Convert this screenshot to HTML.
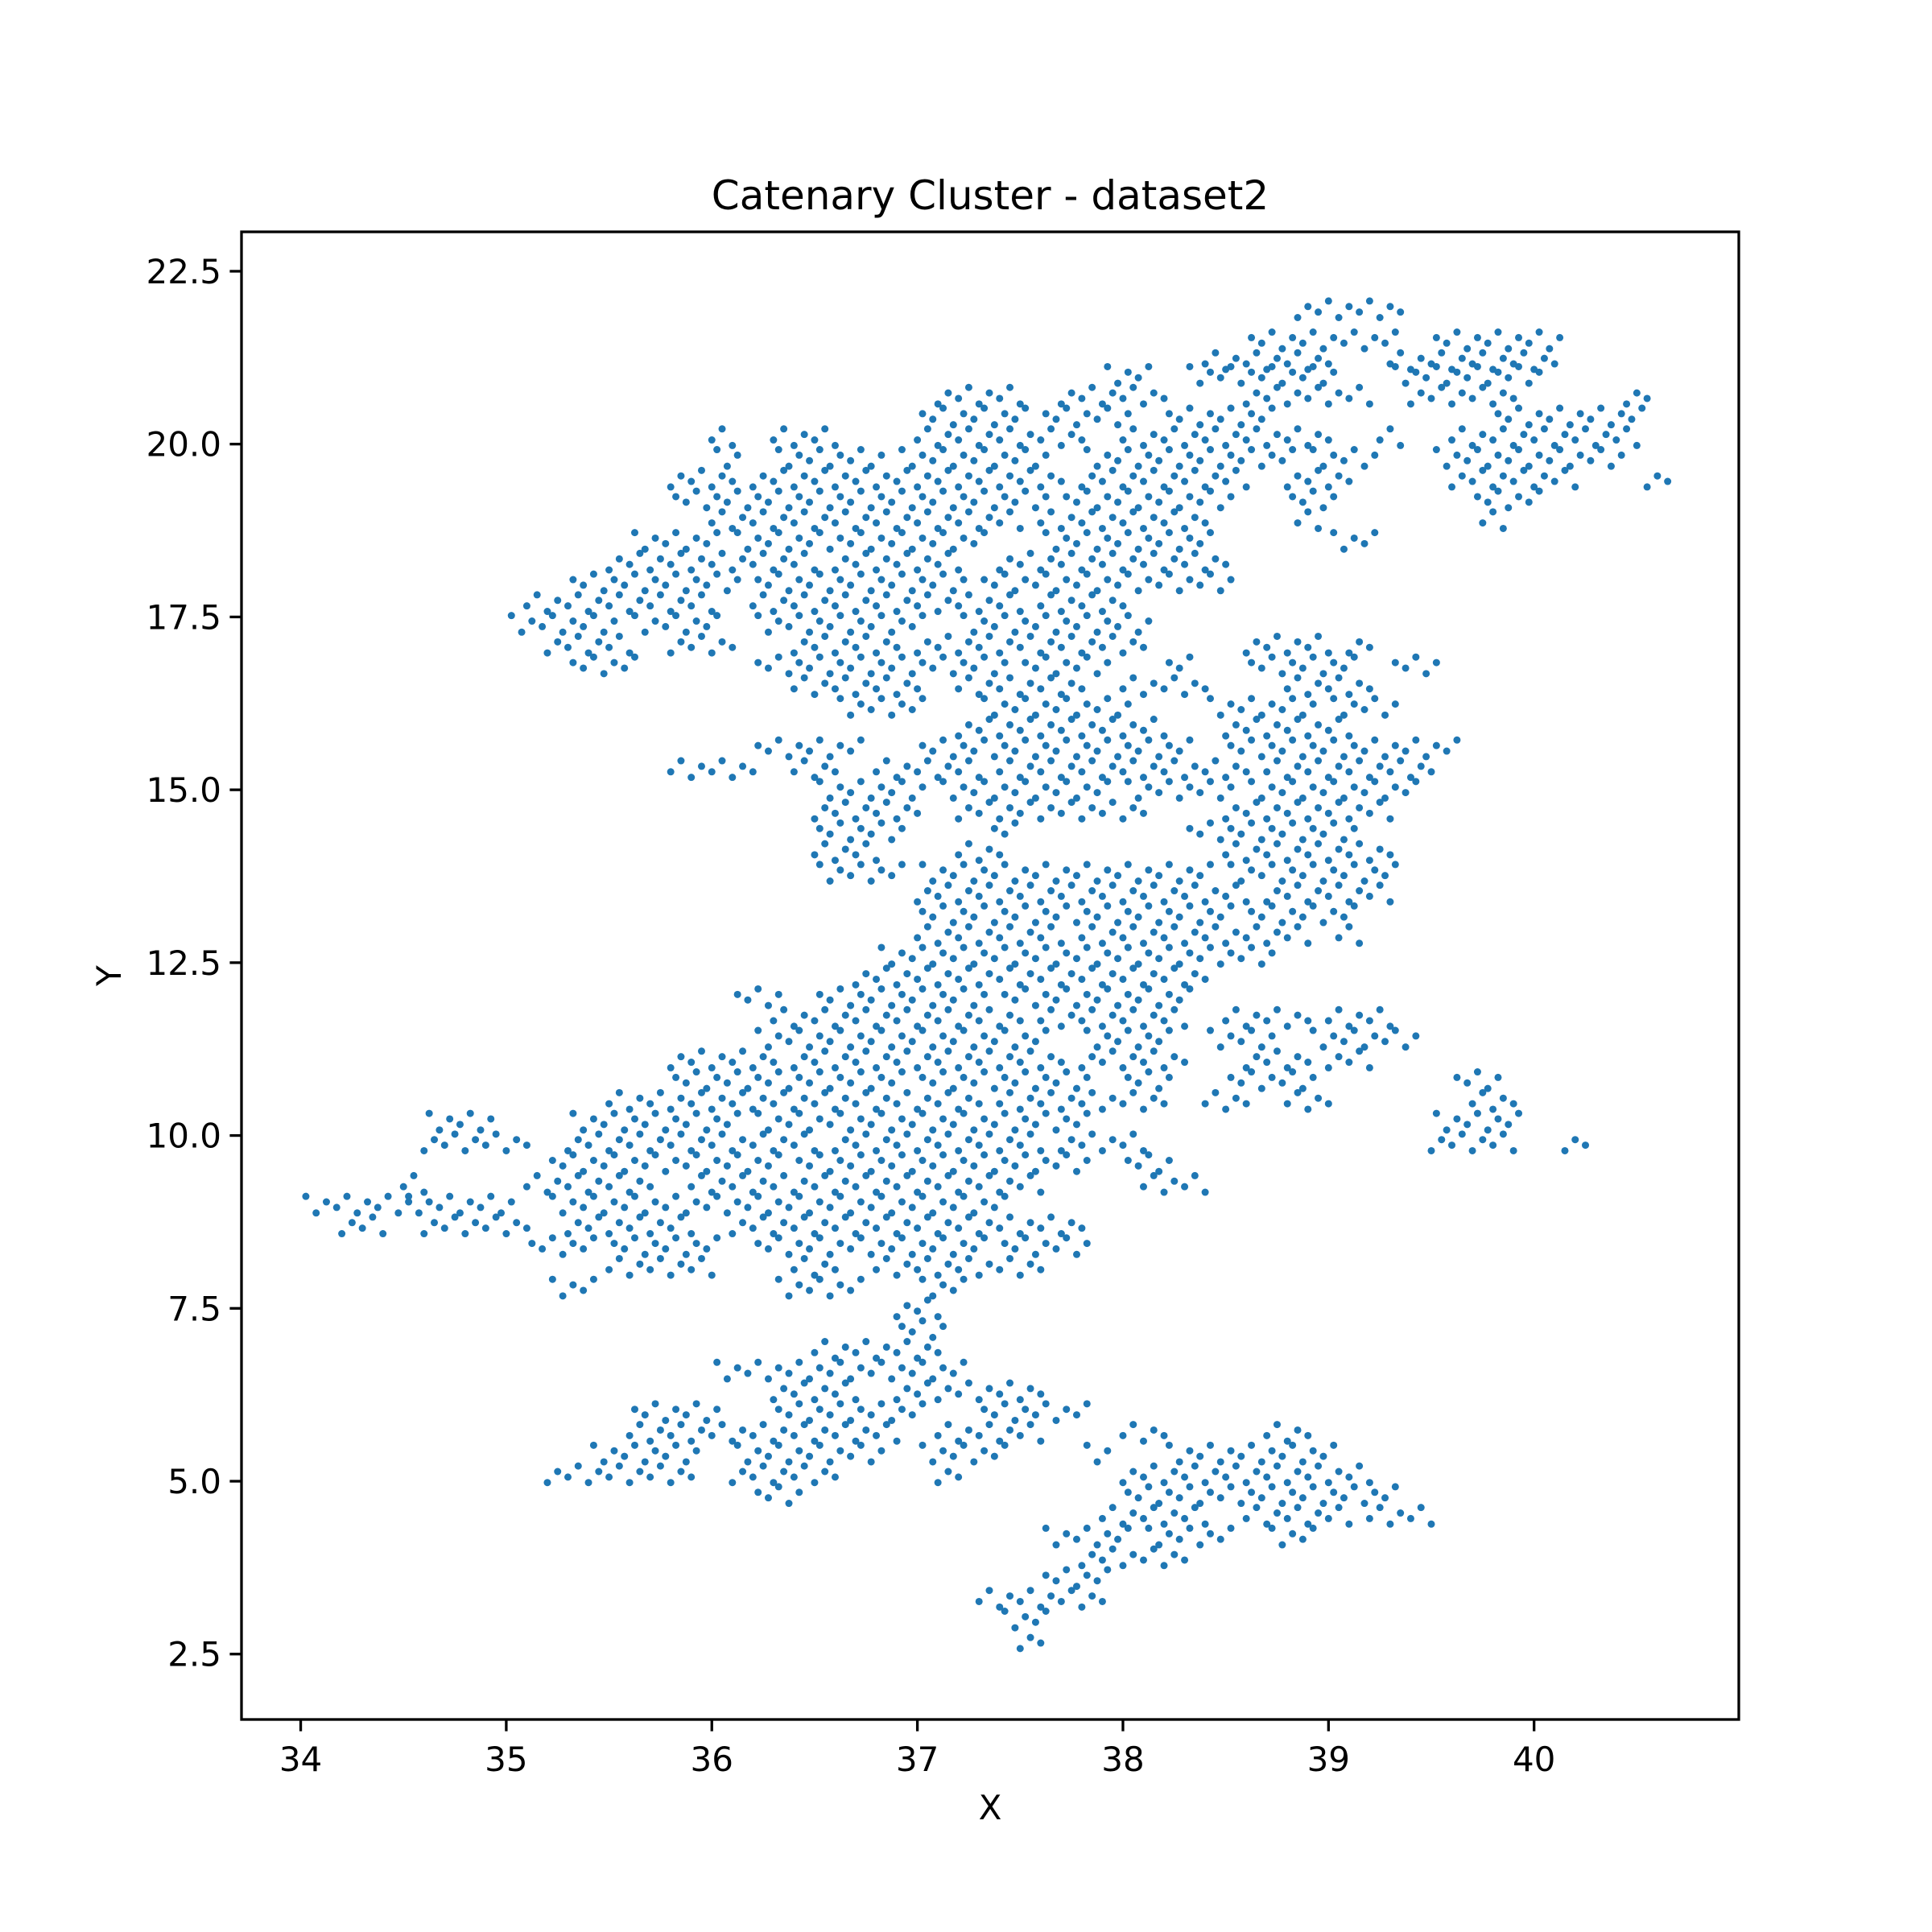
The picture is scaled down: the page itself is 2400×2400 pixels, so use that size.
<!DOCTYPE html>
<html><head><meta charset="utf-8">
<style>
html,body{margin:0;padding:0;background:#fff;}
svg{display:block;font-family:"DejaVu Sans","Liberation Sans",sans-serif;}
</style></head>
<body>
<svg id="chart" width="2400" height="2400" viewBox="0 0 2400 2400" xmlns="http://www.w3.org/2000/svg">
<rect width="2400" height="2400" fill="#fff"/>
<text x="1230" y="260" font-size="50" text-anchor="middle">Catenary Cluster - dataset2</text>
<text x="1230" y="2260" font-size="42" text-anchor="middle">X</text>
<text x="0" y="0" font-size="42" text-anchor="middle" transform="translate(150,1212) rotate(-90)">Y</text>
<g id="ticks"></g>
<g id="points"></g>
<rect x="300" y="288" width="1860" height="1848" fill="none" stroke="#000" stroke-width="3.3"/>
</svg>
<script>
const xTicks = [34,35,36,37,38,39,40];
const yTicks = [2.5,5.0,7.5,10.0,12.5,15.0,17.5,20.0,22.5];
// occupied x-ranges per y band
const rowY = [21.95,21.5,21.2,21.0,20.7,20.4,20.1,19.8,19.5,19.2,18.9,18.6,18.3,18.0,17.7,17.4,17.1,16.8,16.5,16.2,15.9,15.6,15.3,15.0,14.7,14.4,14.1,13.8,13.5,13.2,12.9,12.6,12.3,12.0,11.7,11.4,11.1,10.8,10.5,10.2,9.9,9.6,9.3,9.0,8.7,8.4,8.1,7.8,7.5,7.2,6.9,6.6,6.3,6.0,5.7,5.4,5.1,4.8,4.5,4.2,3.9,3.6,3.3,3.0,2.7];
const rowRanges = [
[[38.85,39.35]],
[[38.6,39.3],[39.5,40.1]],
[[38.4,39.0],[39.3,40.1]],
[[37.9,38.1],[38.3,39.0],[39.3,40.0]],
[[37.1,37.5],[37.7,38.2],[38.6,39.2],[39.4,39.9],[40.45,40.55]],
[[37.0,37.5],[37.6,38.0],[38.2,38.7],[39.8,40.5]],
[[36.0,36.1],[36.3,36.6],[37.0,37.8],[38.0,39.0],[39.25,39.35],[39.6,40.5]],
[[36.0,36.1],[36.3,36.8],[36.9,37.6],[37.8,38.8],[38.9,39.2],[39.5,40.4]],
[[35.8,36.1],[36.2,37.7],[37.8,38.6],[38.8,39.1],[39.6,40.2],[40.55,40.65]],
[[35.8,37.6],[37.7,38.5],[38.8,39.0],[39.7,40.0]],
[[36.0,37.5],[37.6,38.4],[38.85,38.95],[39.75,39.85]],
[[35.6,36.0],[36.1,37.3],[37.6,38.4],[39.0,39.2]],
[[35.5,36.5],[36.6,37.2],[37.4,38.5]],
[[35.3,36.1],[36.2,37.2],[37.3,38.5]],
[[35.1,36.0],[36.2,37.5],[37.6,38.0]],
[[35.0,35.5],[35.6,36.0],[36.2,37.0],[37.2,38.1]],
[[35.2,35.6],[35.8,36.1],[36.4,36.9],[37.0,38.1],[38.6,39.0],[39.1,39.2]],
[[35.3,35.6],[36.2,37.4],[37.5,37.9],[38.2,38.3],[38.6,39.1],[39.3,39.5]],
[[36.4,37.0],[37.2,37.8],[38.0,38.4],[38.8,39.2]],
[[36.6,37.0],[37.3,38.0],[38.4,38.9],[39.0,39.3]],
[[37.2,38.2],[38.5,39.1]],
[[36.2,36.7],[37.0,38.3],[38.5,39.6]],
[[35.8,36.2],[36.4,36.6],[36.8,37.3],[37.4,38.6],[38.7,39.5]],
[[36.5,37.0],[37.1,37.9],[38.0,38.5],[38.6,39.4]],
[[36.5,37.0],[37.2,38.1],[38.5,39.3]],
[[36.5,36.9],[37.35,37.45],[38.3,39.1]],
[[36.5,36.8],[37.2,37.4],[38.5,39.3]],
[[36.5,36.9],[37.0,38.4],[38.5,39.3]],
[[37.0,38.6],[38.7,39.3]],
[[37.0,38.5],[38.6,39.1]],
[[37.0,37.7],[37.8,38.9],[39.05,39.15]],
[[36.8,38.0],[38.0,38.7]],
[[36.7,38.4]],
[[36.1,36.3],[36.5,37.3],[37.4,38.3]],
[[36.3,37.5],[37.6,38.3],[38.5,38.9],[39.0,39.3]],
[[36.2,37.6],[37.8,38.2],[38.4,38.7],[38.9,39.4]],
[[35.8,36.3],[36.4,37.7],[37.8,38.3],[38.6,38.9],[39.0,39.2]],
[[35.8,36.9],[37.0,37.8],[38.0,38.2],[38.5,38.9],[39.6,39.8]],
[[35.5,37.3],[37.4,38.2],[38.4,38.6],[38.8,39.0],[39.7,39.9]],
[[34.6,34.9],[35.3,36.1],[36.2,37.8],[39.5,39.9]],
[[34.6,35.1],[35.3,36.5],[36.6,37.6],[37.7,38.1],[39.5,39.9],[40.15,40.25]],
[[35.2,36.3],[36.4,37.8],[38.0,38.2]],
[[34.5,34.6],[35.1,35.7],[35.9,37.6],[38.1,38.4]],
[[34.0,34.5],[34.5,35.0],[35.2,37.4]],
[[34.2,34.4],[34.6,35.1],[35.3,35.9],[36.1,37.8]],
[[35.1,35.4],[35.5,36.0],[36.2,37.3],[37.4,37.8]],
[[35.5,36.0],[36.4,36.6],[36.8,37.6]],
[[35.2,35.4],[36.3,36.7],[37.0,37.2]],
[[36.9,37.1]],
[[36.9,37.1]],
[[36.5,37.1]],
[[36.0,37.2]],
[[36.3,36.7],[36.9,37.6]],
[[35.6,36.0],[36.3,37.0],[37.3,37.8]],
[[35.6,36.9],[37.1,37.6],[38.0,38.2],[38.7,38.9]],
[[35.4,35.9],[36.1,36.8],[37.0,37.4],[37.8,37.9],[38.2,39.0]],
[[35.2,35.9],[36.1,36.6],[37.1,37.2],[38.0,39.2]],
[[36.2,36.4],[38.0,39.3]],
[[37.9,38.4],[38.6,39.1],[39.2,39.5]],
[[37.6,38.0],[38.1,38.5],[38.7,38.9]],
[[37.8,38.3]],
[[37.6,37.9]],
[[37.3,37.9]],
[[37.4,37.6]],
[[37.5,37.6]]
];
const X0 = 300, X1 = 2160, Y0 = 288, Y1 = 2136;
const xmin = 33.712, xmax = 40.996, ymin = 1.554, ymax = 23.07;
function sx(v){ return X0 + (v - xmin) / (xmax - xmin) * (X1 - X0); }
function sy(v){ return Y1 - (v - ymin) / (ymax - ymin) * (Y1 - Y0); }
const NS = "http://www.w3.org/2000/svg";
const tg = document.getElementById('ticks');
xTicks.forEach(t => {
  const l = document.createElementNS(NS,'line');
  l.setAttribute('x1',sx(t)); l.setAttribute('x2',sx(t));
  l.setAttribute('y1',Y1); l.setAttribute('y2',Y1+14.6);
  l.setAttribute('stroke','#000'); l.setAttribute('stroke-width','3.3');
  
  
  tg.appendChild(l);
  const tx = document.createElementNS(NS,'text');
  tx.setAttribute('x',sx(t)); tx.setAttribute('y',Y1+64);
  tx.setAttribute('font-size','42'); tx.setAttribute('text-anchor','middle');
  tx.textContent = String(t);
  
  
  tg.appendChild(tx);
});
yTicks.forEach(t => {
  const l = document.createElementNS(NS,'line');
  l.setAttribute('x1',X0-14.6); l.setAttribute('x2',X0);
  l.setAttribute('y1',sy(t)); l.setAttribute('y2',sy(t));
  l.setAttribute('stroke','#000'); l.setAttribute('stroke-width','3.3');
  
  
  tg.appendChild(l);
  const tx = document.createElementNS(NS,'text');
  tx.setAttribute('x',X0-25); tx.setAttribute('y',sy(t)+15);
  tx.setAttribute('font-size','42'); tx.setAttribute('text-anchor','end');
  tx.textContent = t.toFixed(1);
  
  
  tg.appendChild(tx);
});
const pg = document.getElementById('points');
const offs = [-0.12, 0.04, -0.04, 0.12];
rowY.forEach((y, r) => {
  (rowRanges[r] || []).forEach(rg => {
    let i = 0;
    for (let x = rg[0]; x <= rg[1] + 1e-9; x += 0.05) {
      const c = document.createElementNS(NS,'circle');
      c.setAttribute('cx', sx(x + ((r % 2) ? 0.025 : 0)));
      c.setAttribute('cy', sy(y + offs[(i + r) % 4]));
      c.setAttribute('r','4.5');
      c.setAttribute('fill','#1f77b4');
      
      
      pg.appendChild(c);
      i++;
    }
  });
});
</script>
</body></html>
